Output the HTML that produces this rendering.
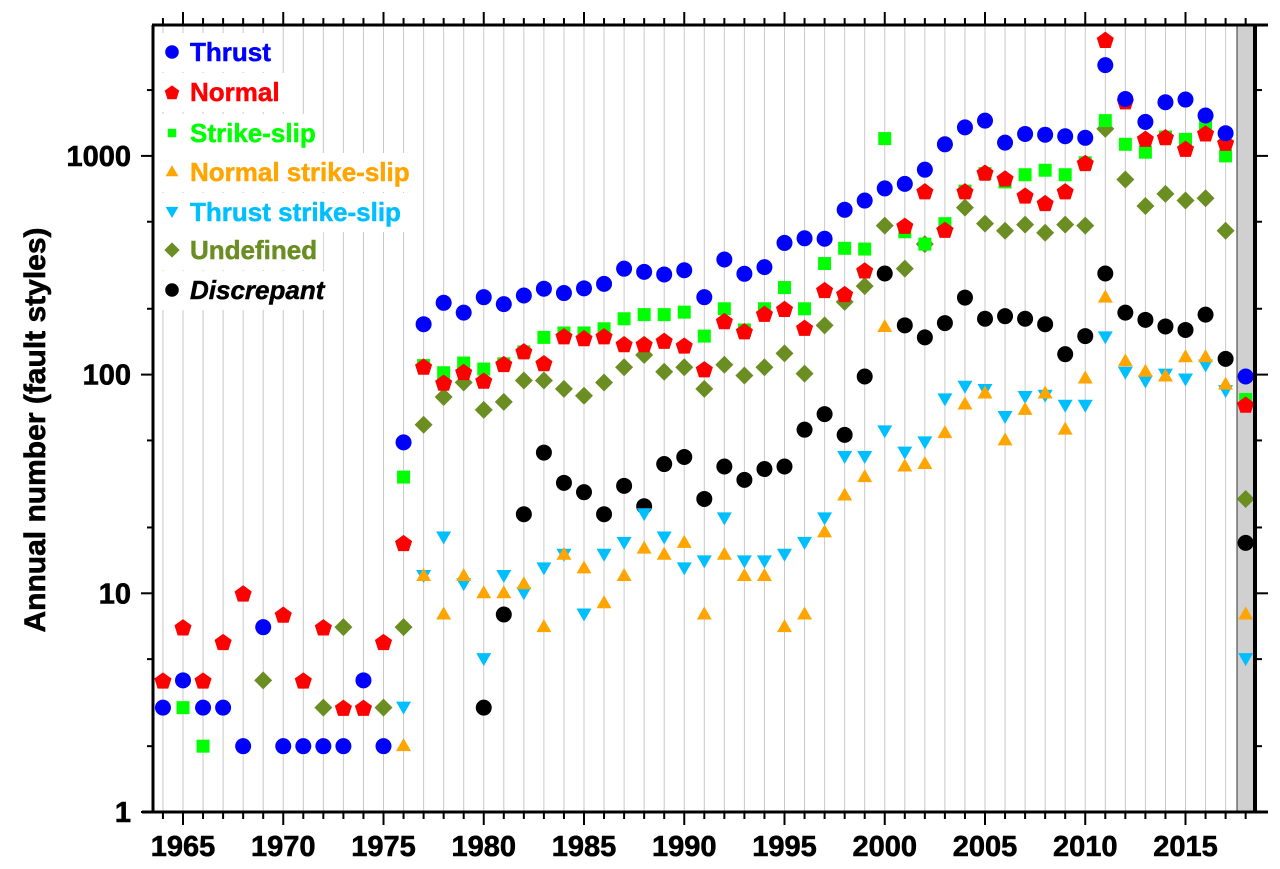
<!DOCTYPE html>
<html><head><meta charset="utf-8"><style>
html,body{margin:0;padding:0;background:#fff}
svg{display:block;font-family:"Liberation Sans",sans-serif}
</style></head><body>
<svg id="chart" width="1280" height="869" viewBox="0 0 1280 869" xmlns="http://www.w3.org/2000/svg">
<g id="grid"></g>
<rect x="1237" y="25" width="18" height="787" fill="#d0d0d0" stroke="#333" stroke-width="1"/>
<g id="marks"></g>
<g id="axes"></g>
<rect x="152" y="23.5" width="1116" height="3" fill="#000"/>
<rect x="1253" y="23.5" width="4" height="790" fill="#000"/>
<g id="legend"></g>
<text transform="translate(45,430) rotate(-90)" text-anchor="middle" font-weight="bold" font-size="30" stroke="#000" stroke-width="0.6">Annual number (fault styles)</text>
</svg>
<script>
const years = [];
for (let y = 1964; y <= 2018; y++) years.push(y);
const N = null;
// values indexed 1964..2018
const thrust = [3,4,3,3,2,7,2,2,2,2,4,2,49,170,213,192,226,210,230,247,236,248,260,305,295,287,300,226,336,289,310,400,420,418,567,625,710,745,865,1130,1350,1450,1150,1260,1250,1230,1210,2600,1820,1430,1760,1810,1530,1270,98];
const normal = [4,7,4,6,10,N,8,4,7,3,3,6,17,109,92,103,94,112,128,113,150,147,150,138,138,143,136,106,176,158,190,200,164,244,234,300,N,480,690,460,690,840,790,660,610,690,930,3400,1780,1200,1220,1080,1270,1150,73];
const strikeSlip = [N,3,2,N,N,N,N,N,N,N,N,N,34,110,102,113,106,112,127,148,155,155,162,180,188,188,193,150,200,160,200,250,200,322,378,375,1200,450,395,490,690,830,760,820,860,820,930,1450,1130,1040,1220,1190,1390,1000,77];
const normalSS = [N,N,N,N,N,N,N,N,N,N,N,N,2,12,8,12,10,10,11,7,15,13,9,12,16,15,17,8,15,12,12,7,8,19,28,34,165,38,39,54,73,82,50,69,82,56,96,225,115,103,98,120,120,90,8];
const thrustSS = [N,N,N,N,N,N,N,N,N,N,N,N,3,12,18,11,5,12,10,13,15,8,15,17,23,18,13,14,22,14,14,15,17,22,42,42,55,44,49,77,88,85,64,79,80,72,72,148,102,93,100,95,110,84,5];
const undefinedS = [N,N,N,N,N,4,N,N,3,7,N,3,7,59,79,92,69,75,94,94,86,80,92,108,123,103,108,86,111,99,108,125,101,168,215,254,480,305,395,465,580,490,455,485,445,485,480,1330,780,590,670,625,640,455,27];
const discrepant = [N,N,N,N,N,N,N,N,N,N,N,N,N,N,N,N,3,8,23,44,32,29,23,31,25,39,42,27,38,33,37,38,56,66,53,98,290,168,148,172,225,180,185,180,170,124,150,290,192,178,166,160,188,118,17];
const xTickLabels = [1965,1970,1975,1980,1985,1990,1995,2000,2005,2010,2015];
const yTickLabels = [1,10,100,1000];

const NS = "http://www.w3.org/2000/svg";
const L = 153, R = 1255, T = 25, B = 812;
const xs = yr => 183 + (yr - 1965) * 20.05;
const ys = v => B - Math.log10(v) * 218.7;
function mk(tag, attrs, parent){const e=document.createElementNS(NS,tag);for(const k in attrs)e.setAttribute(k,attrs[k]);parent.appendChild(e);return e;}
const grid = document.getElementById('grid'), axes = document.getElementById('axes'), marks = document.getElementById('marks'), legend = document.getElementById('legend');

years.forEach(y => {
  const g = mk('line',{x1:xs(y),x2:xs(y),y1:T,y2:B,stroke:'#c8c8c8','stroke-width':1},grid);
  
  
  const major = y % 5 === 0;
  const len = major ? 13 : 7;
  const tb = mk('rect',{x:xs(y)-1,y:B,width:2,height:len,fill:'#000'},axes);
  
  
  const tt = mk('rect',{x:xs(y)-1,y:T-len,width:2,height:len,fill:'#000'},axes);
  
  
});
xTickLabels.forEach(y => {
  const t = mk('text',{x:xs(y),y:856,'text-anchor':'middle','font-weight':'bold','font-size':29,stroke:'#000','stroke-width':0.6},axes);
  t.textContent = y;
  
  
});
for (let d = 0; d < 4; d++) {
  [1,2,5].forEach(m => {
    const v = m * Math.pow(10, d);
    const y = ys(v);
    if (y < T) return;
    const len = m === 1 ? 12 : 6;
    const a = mk('line',{x1:L-len,x2:L,y1:y,y2:y,stroke:'#000','stroke-width':2},axes);
    
    
    const b = mk('line',{x1:R,x2:R+len+1,y1:y,y2:y,stroke:'#000','stroke-width':2},axes);
    
    
  });
}
yTickLabels.forEach(v => {
  const t = mk('text',{x:131,y:ys(v)+10,'text-anchor':'end','font-weight':'bold','font-size':29,stroke:'#000','stroke-width':0.6},axes);
  t.textContent = v;
  
  
});
const axl = [
  ['x-axis-line',142,B,1268,B,3],
  ['y-axis-line',L,T,L,B+1,3]
];
axl.forEach(a => {
  const e = mk('line',{x1:a[1],y1:a[2],x2:a[3],y2:a[4],stroke:'#000','stroke-width':a[5]},axes);
  
  
});

function shape(kind, cx, cy, color, s, parent){
  s = s || 1;
  let e;
  if (kind==='circle') e = mk('circle',{cx:cx,cy:cy,r:8*s,fill:color},parent);
  else if (kind==='square') e = mk('rect',{x:cx-6.5*s,y:cy-6.5*s,width:13*s,height:13*s,fill:color},parent);
  else {
    let pts;
    if (kind==='pent'){pts=[];for(let i=0;i<5;i++){const a=-Math.PI/2+i*2*Math.PI/5;pts.push([cx+9*s*Math.cos(a),cy+1+9*s*Math.sin(a)]);}}
    else if (kind==='up') pts=[[cx,cy-8*s],[cx+7.5*s,cy+5*s],[cx-7.5*s,cy+5*s]];
    else if (kind==='down') pts=[[cx,cy+7*s],[cx+7.5*s,cy-6*s],[cx-7.5*s,cy-6*s]];
    else pts=[[cx,cy-9*s],[cx+9*s,cy],[cx,cy+9*s],[cx-9*s,cy]];
    e = mk('polygon',{points:pts.map(p=>p.join(',')).join(' '),fill:color},parent);
  }
  return e;
}
const series = [
  {name:'Thrust', data:thrust, kind:'circle', color:'#0000ff'},
  {name:'Normal', data:normal, kind:'pent', color:'#ff0000'},
  {name:'Strike-slip', data:strikeSlip, kind:'square', color:'#00ff00'},
  {name:'Normal strike-slip', data:normalSS, kind:'up', color:'#ffa500'},
  {name:'Thrust strike-slip', data:thrustSS, kind:'down', color:'#00bfff'},
  {name:'Undefined', data:undefinedS, kind:'diamond', color:'#6b8e23'},
  {name:'Discrepant', data:discrepant, kind:'circle', color:'#000000'}
];
series.slice().reverse().forEach(s => {
  s.data.forEach((v,i) => {
    if (v == null) return;
    const e = shape(s.kind, xs(years[i]), ys(v), s.color, 1, marks);
    
    
  });
});
const rowsY = [52,92,133,172,212,250,290];
series.forEach((s,i) => {
  const cy = rowsY[i];
  const t = mk('text',{x:190,y:cy+9,'font-weight':'bold','font-size':26,fill:s.color,stroke:s.color,'stroke-width':0.5},legend);
  if (s.name==='Discrepant') t.setAttribute('font-style','italic');
  t.textContent = s.name;
  
  
  const w = t.getComputedTextLength();
  const bg = mk('rect',{x:156,y:cy-19,width:w+40,height:39,fill:'#fff'},legend);
  legend.insertBefore(bg, legend.firstChild);
  
  
  const m = shape(s.kind, 172, cy, s.color, s.kind==='square'?0.65:0.85, legend);
  
  
});
</script>
</body></html>
